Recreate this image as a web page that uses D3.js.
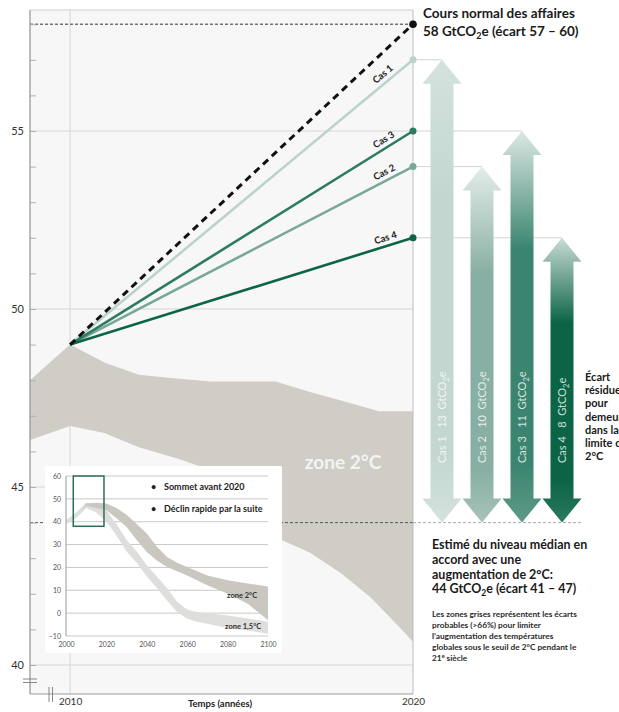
<!DOCTYPE html>
<html><head><meta charset="utf-8">
<script src="https://cdn.jsdelivr.net/npm/d3@7/dist/d3.min.js"></script>
<style>
body{margin:0;background:#fff}
svg{display:block;font-family:Lato,"Open Sans",sans-serif}
</style>
</head><body>
<svg id="c" width="619" height="712"></svg>
<script>
// ---------- DATA ----------
const years = [2010, 2020];
const bauValues = [49, 58];
const caseNames = ["Cas 1", "Cas 2", "Cas 3", "Cas 4"];
const caseStart = 49;
const caseEnd = [57, 54, 55, 52];
const caseGap = [13, 10, 11, 8];
const targetValue = 44;
const yTickLabels = [40, 45, 50, 55];
const xTickLabels = [2010, 2020];
// zone 2°C band (main chart): [year, value]
const bandUpper = [[2008.83,48.0],[2010,49.0],[2011,48.5],[2012,48.15],[2014.1,47.96],[2016,47.96],[2017,47.67],[2019,47.13],[2020,47.13]];
const bandLower = [[2008.83,46.32],[2010,46.71],[2011,46.52],[2012,46.12],[2013.1,45.81],[2014.1,45.48],[2015,44.6],[2016.2,43.5],[2017,43.15],[2017.9,42.58],[2018.75,41.91],[2019.6,41.07],[2020,40.65]];
// inset
const insetYTicks = [-10,0,10,20,30,40,50,60];
const insetXTicks = [2000,2020,2040,2060,2080,2100];
const inset2Upper = [[2008,45],[2010,48],[2015,48.3],[2020,48],[2025,46],[2030,43],[2035,39],[2040,34.8],[2045,29],[2050,24.6],[2055,22],[2060,20.2],[2070,16.5],[2080,14.4],[2090,13],[2100,11.7]];
const inset2Lower = [[2008,45],[2010,47],[2015,46],[2020,45],[2025,41.5],[2030,37.7],[2035,32],[2040,26.8],[2045,23],[2050,20.2],[2060,16.5],[2070,12.2],[2080,8.5],[2090,4.1],[2100,-3.1]];
const inset15Upper = [[2000,40.8],[2005,44],[2010,48.3],[2015,48],[2020,45],[2025,39],[2030,32],[2035,27],[2040,21],[2045,16],[2050,11],[2055,5],[2060,1.5],[2065,0.5],[2070,0],[2080,-1],[2090,-2.3],[2100,-3.8]];
const inset15Lower = [[2000,39],[2005,41.5],[2010,46],[2015,44],[2020,40],[2025,34],[2030,27],[2035,22],[2040,16],[2045,11],[2050,5.5],[2055,0.5],[2060,-2.5],[2065,-3.8],[2070,-4.6],[2080,-6.5],[2090,-7.6],[2100,-9]];
const insetBox = {x0:2003.6, x1:2018.8, y0:38, y1:60};
const legendItems = ["Sommet avant 2020", "Déclin rapide par la suite"];

// ---------- SETUP ----------
const svg = d3.select("#c");
const L = 30, R = 413, T = 10, B = 694;
const x = d3.scaleLinear().domain([2008.83, 2020]).range([L, R]);
const y = d3.scaleLinear().domain([40, 55]).range([665, 131]);
const caseColors = ["#bcd3cc", "#79a898", "#2e7b63", "#0d6547"];
const arrowMain = ["#c3d7d0", "#88afa3", "#3b8570", "#0b6446"];
const arrowTop  = ["#d3e2dd", "#e3ece9", "#dde8e4", "#c9dcd5"];
const arrowBot  = ["#d3e2dd", "#a7c3ba", "#5e9a88", "#2c7a5f"];

// gradients
const defs = svg.append("defs");
caseNames.forEach((n, i) => {
  const g = defs.append("linearGradient").attr("id", "ag" + i)
    .attr("x1", 0).attr("y1", 0).attr("x2", 0).attr("y2", 1);
  g.append("stop").attr("offset", 0).attr("stop-color", arrowTop[i]);
  g.append("stop").attr("offset", 0.3).attr("stop-color", arrowMain[i]);
  g.append("stop").attr("offset", 0.85).attr("stop-color", arrowMain[i]);
  g.append("stop").attr("offset", 1).attr("stop-color", arrowBot[i]);
});

// plot background
svg.append("rect").attr("x", L).attr("y", T).attr("width", R - L).attr("height", B - T)
  .attr("fill", "#f7f7f7");

// grid
svg.append("g").selectAll("line").data(yTickLabels).join("line")
  .attr("x1", L).attr("x2", R).attr("y1", d => y(d)).attr("y2", d => y(d))
  .attr("stroke", "#d6d6d6").attr("stroke-width", 1);
svg.append("line").attr("x1", x(2010)).attr("x2", x(2010)).attr("y1", T).attr("y2", B)
  .attr("stroke", "#dcdcdc").attr("stroke-width", 1.2);

// main band
const area = d3.area().x(d => x(d[0])).y0(d => y(d[1])).y1(d => y(d[2]));
function mergeBand(up, lo, xs) {
  const iu = d3.scaleLinear().domain(up.map(d => d[0])).range(up.map(d => d[1]));
  const il = d3.scaleLinear().domain(lo.map(d => d[0])).range(lo.map(d => d[1]));
  const all = Array.from(new Set(up.map(d => d[0]).concat(lo.map(d => d[0])))).sort((a, b) => a - b);
  return all.map(t => [t, il(t), iu(t)]);
}
svg.append("path").datum(mergeBand(bandUpper, bandLower))
  .attr("d", area).attr("fill", "#cfcdc6");

// target dashed line (44)
svg.append("line").attr("x1", L).attr("x2", R).attr("y1", y(targetValue)).attr("y2", y(targetValue))
  .attr("stroke", "#555").attr("stroke-width", 1).attr("stroke-dasharray", "3,2");
svg.append("line").attr("x1", R).attr("x2", 583).attr("y1", y(targetValue)).attr("y2", y(targetValue))
  .attr("stroke", "#aaa").attr("stroke-width", 1).attr("stroke-dasharray", "3,2");

// BAU level dashed line (58)
svg.append("line").attr("x1", L).attr("x2", R).attr("y1", y(bauValues[1])).attr("y2", y(bauValues[1]))
  .attr("stroke", "#333").attr("stroke-width", 1).attr("stroke-dasharray", "3,2");

// plot frame
svg.append("line").attr("x1", L).attr("x2", R).attr("y1", T).attr("y2", T).attr("stroke", "#cfcfcf");
svg.append("line").attr("x1", R).attr("x2", R).attr("y1", T).attr("y2", B).attr("stroke", "#bdbdbd");
svg.append("line").attr("x1", L).attr("x2", R).attr("y1", B).attr("y2", B).attr("stroke", "#9a9a9a");

// y axis
const yAxisMinor = d3.axisRight(y).tickValues(d3.range(40, 59)).tickSize(6).tickFormat("");
const ga = svg.append("g").attr("transform", `translate(${L},0)`).call(yAxisMinor);
ga.select(".domain").remove();
ga.selectAll("line").attr("stroke", "#b0b0b0");
svg.append("line").attr("x1", L).attr("x2", L).attr("y1", T).attr("y2", B).attr("stroke", "#9a9a9a").attr("stroke-width", 1.3);
const yAxisLab = d3.axisLeft(y).tickValues(yTickLabels).tickSize(0).tickPadding(6).tickFormat(d3.format("d"));
const gl = svg.append("g").attr("transform", `translate(${L},0)`).call(yAxisLab);
gl.select(".domain").remove();
gl.selectAll("text").attr("font-size", 11).attr("fill", "#333").attr("font-family", "Lato, sans-serif");

// axis break marks
[679, 682.5].forEach(v => svg.append("line").attr("x1", 23).attr("x2", 37).attr("y1", v).attr("y2", v).attr("stroke", "#888"));
[49, 52.5].forEach(v => svg.append("line").attr("x1", v).attr("x2", v).attr("y1", 687).attr("y2", 702).attr("stroke", "#888"));

// x axis labels
const xAxis = d3.axisBottom(x).tickValues(xTickLabels).tickSize(0).tickPadding(4).tickFormat(d3.format("d"));
const gx = svg.append("g").attr("transform", `translate(0,${B})`).call(xAxis);
gx.select(".domain").remove();
gx.selectAll("text").attr("font-size", 10).attr("fill", "#333").attr("font-family", "Lato, sans-serif");
svg.append("text").attr("x", 220).attr("y", 707).attr("text-anchor", "middle")
  .attr("font-size", 9.5).attr("font-weight", "bold").attr("fill", "#222").text("Temps (années)");

// guide lines from endpoints to arrows
const ax = d3.scalePoint().domain(caseNames).range([442, 562]);
caseNames.forEach((n, i) => {
  svg.append("line").attr("x1", R).attr("x2", ax(n)).attr("y1", y(caseEnd[i])).attr("y2", y(caseEnd[i]))
    .attr("stroke", "#d4d4d4").attr("stroke-width", 1);
});

// case lines
const line = d3.line().x(d => x(d[0])).y(d => y(d[1]));
const order = [0, 1, 2, 3];
order.forEach(i => {
  const pts = [[years[0], caseStart], [years[1], caseEnd[i]]];
  svg.append("path").datum(pts).attr("d", line).attr("fill", "none")
    .attr("stroke", caseColors[i]).attr("stroke-width", 2.6);
  svg.append("circle").attr("cx", x(years[1])).attr("cy", y(caseEnd[i])).attr("r", 3.5).attr("fill", caseColors[i]);
  // label
  const lx = 388;
  const t = (lx - x(years[0])) / (x(years[1]) - x(years[0]));
  const ly = y(caseStart) + t * (y(caseEnd[i]) - y(caseStart));
  const ang = Math.atan2(y(caseEnd[i]) - y(caseStart), x(years[1]) - x(years[0])) * 180 / Math.PI;
  svg.append("text").attr("transform", `translate(${lx},${ly}) rotate(${ang})`)
    .attr("text-anchor", "middle").attr("dy", -5).attr("font-size", 9.5).attr("font-weight", "bold")
    .attr("fill", "#222").text(caseNames[i]);
});
// BAU dashed line
svg.append("path").datum(years.map((yr, i) => [yr, bauValues[i]])).attr("d", line)
  .attr("fill", "none").attr("stroke", "#111").attr("stroke-width", 3).attr("stroke-dasharray", "7,5");
svg.append("circle").attr("cx", x(years[1])).attr("cy", y(bauValues[1])).attr("r", 3.8).attr("fill", "#111");

// arrows
function arrowPath(cx, yt, yb) {
  const sw = 11.5, hw = 19.5, hh = 24;
  return `M${cx},${yt}L${cx + hw},${yt + hh}L${cx + sw},${yt + hh}L${cx + sw},${yb - hh}L${cx + hw},${yb - hh}L${cx},${yb}` +
    `L${cx - hw},${yb - hh}L${cx - sw},${yb - hh}L${cx - sw},${yt + hh}L${cx - hw},${yt + hh}Z`;
}
caseNames.forEach((n, i) => {
  const cx = ax(n);
  svg.append("path").attr("d", arrowPath(cx, y(caseEnd[i]), y(targetValue))).attr("fill", `url(#ag${i})`);
  const tx = svg.append("text").attr("transform", `translate(${cx + 4},463) rotate(-90)`)
    .attr("font-size", 11).attr("fill", "#fff").attr("fill-opacity", 0.8).style("white-space", "pre");
  tx.append("tspan").text(`${n}   ${caseGap[i]}  GtCO`);
  tx.append("tspan").attr("font-size", 7.5).attr("dy", 3).text("2");
  tx.append("tspan").attr("dy", -3).text("e");
});

// Écart résiduel text
const ecart = ["Écart", "résiduel", "pour", "demeurer", "dans la", "limite de", "2°C"];
svg.append("g").selectAll("text").data(ecart).join("text")
  .attr("x", 585).attr("y", (d, i) => 381 + i * 13.2)
  .attr("font-size", 11).attr("font-weight", "bold").attr("fill", "#1a1a1a").text(d => d);

// top right text
svg.append("text").attr("x", 423).attr("y", 18).attr("font-size", 13.5).attr("font-weight", "bold")
  .attr("fill", "#1a1a1a").text("Cours normal des affaires");
const t2 = svg.append("text").attr("x", 423).attr("y", 36).attr("font-size", 13.5).attr("font-weight", "bold").attr("fill", "#1a1a1a");
t2.append("tspan").text(`${bauValues[1]} GtCO`);
t2.append("tspan").attr("font-size", 9).attr("dy", 3).text("2");
t2.append("tspan").attr("dy", -3).text("e (écart 57 – 60)");

// bottom right text
const est = ["Estimé du niveau médian en", "accord avec une", "augmentation de 2°C:"];
svg.append("g").selectAll("text").data(est).join("text")
  .attr("x", 432).attr("y", (d, i) => 549 + i * 14.8)
  .attr("font-size", 12.5).attr("font-weight", "bold").attr("fill", "#1a1a1a").text(d => d);
const t3 = svg.append("text").attr("x", 432).attr("y", 549 + 3 * 14.8).attr("font-size", 12.5).attr("font-weight", "bold").attr("fill", "#1a1a1a");
t3.append("tspan").text(`${targetValue} GtCO`);
t3.append("tspan").attr("font-size", 8.5).attr("dy", 3).text("2");
t3.append("tspan").attr("dy", -3).text("e (écart 41 – 47)");
const small = ["Les zones grises représentent les écarts", "probables (>66%) pour limiter", "l’augmentation des températures", "globales sous le seuil de 2°C pendant le"];
svg.append("g").selectAll("text").data(small).join("text")
  .attr("x", 432).attr("y", (d, i) => 617 + i * 11)
  .attr("font-size", 8.3).attr("font-weight", "bold").attr("fill", "#2a2a2a").text(d => d);
const t4 = svg.append("text").attr("x", 432).attr("y", 617 + 4 * 11).attr("font-size", 8.3).attr("font-weight", "bold").attr("fill", "#2a2a2a");
t4.append("tspan").text("21");
t4.append("tspan").attr("font-size", 5.5).attr("dy", -3).text("e");
t4.append("tspan").attr("dy", 3).text(" siècle");

// zone 2°C label
svg.append("text").attr("x", 343).attr("y", 469).attr("text-anchor", "middle")
  .attr("font-size", 19).attr("font-weight", "bold").attr("fill", "#f4f4f2").text("zone 2°C");

// ---------- INSET ----------
svg.append("rect").attr("x", 45).attr("y", 466).attr("width", 237).attr("height", 187).attr("fill", "#fff");
const ix = d3.scaleLinear().domain([2000, 2100]).range([66, 268]);
const iy = d3.scaleLinear().domain([-10, 60]).range([636, 476]);
svg.append("g").selectAll("line").data(insetYTicks).join("line")
  .attr("x1", ix(2000)).attr("x2", ix(2100)).attr("y1", d => iy(d)).attr("y2", d => iy(d))
  .attr("stroke", "#c9c9c9").attr("stroke-width", 1);
const iarea = d3.area().x(d => ix(d[0])).y0(d => iy(d[1])).y1(d => iy(d[2]));
svg.append("path").datum(mergeBand(inset15Upper, inset15Lower)).attr("d", iarea).attr("fill", "#dededc");
svg.append("path").datum(mergeBand(inset2Upper, inset2Lower)).attr("d", iarea).attr("fill", "#c9c7c0");
svg.append("line").attr("x1", ix(2000)).attr("x2", ix(2000)).attr("y1", iy(60)).attr("y2", iy(-10)).attr("stroke", "#999");
const iyAxis = d3.axisLeft(iy).tickValues(insetYTicks).tickSize(0).tickPadding(5);
const giy = svg.append("g").attr("transform", `translate(${ix(2000)},0)`).call(iyAxis);
giy.select(".domain").remove();
giy.selectAll("text").attr("font-size", 7).attr("fill", "#555").attr("font-family", "Lato, sans-serif");
const ixAxis = d3.axisBottom(ix).tickValues(insetXTicks).tickSize(0).tickPadding(6).tickFormat(d3.format("d"));
const gix = svg.append("g").attr("transform", `translate(0,${iy(-10)})`).call(ixAxis);
gix.select(".domain").remove();
gix.selectAll("text").attr("font-size", 7).attr("fill", "#555").attr("font-family", "Lato, sans-serif");
svg.append("rect").attr("x", ix(insetBox.x0)).attr("y", iy(insetBox.y1))
  .attr("width", ix(insetBox.x1) - ix(insetBox.x0)).attr("height", iy(insetBox.y0) - iy(insetBox.y1))
  .attr("fill", "none").attr("stroke", "#2b6e58").attr("stroke-width", 1.5);
legendItems.forEach((d, i) => {
  svg.append("text").attr("x", 151).attr("y", 490 + i * 22).attr("font-size", 9).attr("font-weight", "bold").attr("fill", "#222").text("•");
  svg.append("text").attr("x", 164).attr("y", 490 + i * 22).attr("font-size", 9).attr("font-weight", "bold").attr("fill", "#222").text(d);
});
svg.append("text").attr("x", 227).attr("y", 598).attr("font-size", 7.5).attr("font-weight", "bold").attr("fill", "#333").text("zone 2°C");
svg.append("text").attr("x", 225).attr("y", 629).attr("font-size", 7.5).attr("font-weight", "bold").attr("fill", "#333").text("zone 1,5°C");
</script>
</body></html>
